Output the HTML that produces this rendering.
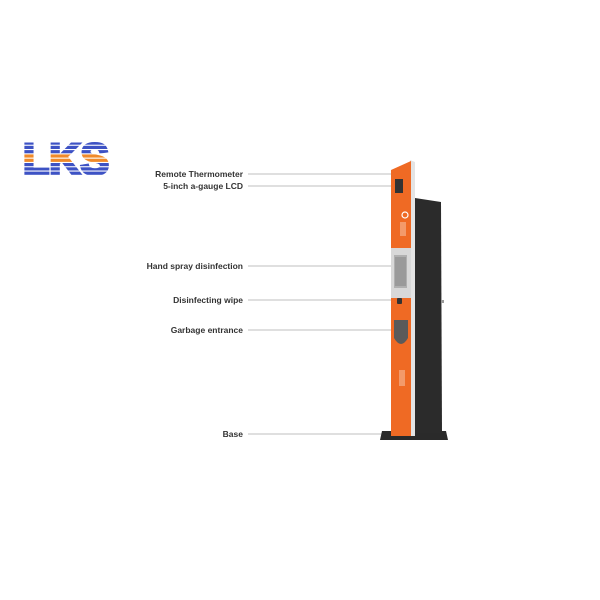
<!DOCTYPE html>
<html><head><meta charset="utf-8"><style>
html,body{margin:0;padding:0;background:#fff;width:600px;height:600px;overflow:hidden}
svg{display:block}
text{font-family:"Liberation Sans",Arial,sans-serif;font-weight:bold;font-size:8.5px;fill:#333}
</style></head><body>
<svg width="600" height="600" viewBox="0 0 600 600" xmlns="http://www.w3.org/2000/svg">
<defs>
<mask id="m" maskUnits="userSpaceOnUse" x="0" y="0" width="200" height="200">
<rect x="0" y="0" width="200" height="200" fill="#000"/>
<text x="23" y="174" textLength="86" lengthAdjust="spacingAndGlyphs" style="font-size:44px;font-weight:bold;fill:#fff;stroke:#fff;stroke-width:3">LKS</text>
</mask>
</defs>
<g mask="url(#m)">
<rect x="20" y="141.5" width="95" height="3.2" fill="#3d52c4"/>
<rect x="20" y="145.8" width="95" height="3.2" fill="#3d52c4"/>
<rect x="20" y="150.1" width="95" height="3.2" fill="#3d52c4"/>
<rect x="20" y="154.4" width="95" height="3.2" fill="#f08a2a"/>
<rect x="20" y="158.7" width="95" height="3.2" fill="#f08a2a"/>
<rect x="20" y="163.0" width="95" height="3.2" fill="#3d52c4"/>
<rect x="20" y="167.3" width="95" height="3.2" fill="#3d52c4"/>
<rect x="20" y="171.6" width="95" height="3.2" fill="#3d52c4"/>
</g>

<g stroke="#aaa" stroke-width="0.8">
<line x1="248" y1="174" x2="393" y2="174"/>
<line x1="248" y1="186" x2="393" y2="186"/>
<line x1="248" y1="266" x2="395" y2="266"/>
<line x1="248" y1="300" x2="395" y2="300"/>
<line x1="248" y1="330" x2="395" y2="330"/>
<line x1="248" y1="434" x2="385" y2="434"/>
</g>
<g text-anchor="end">
<text x="243" y="177">Remote Thermometer</text>
<text x="243" y="189">5-inch a-gauge LCD</text>
<text x="243" y="269">Hand spray disinfection</text>
<text x="243" y="303">Disinfecting wipe</text>
<text x="243" y="333">Garbage entrance</text>
<text x="243" y="437">Base</text>
</g>

<polygon points="382,431 446,431 448,440 380,440" fill="#2a2a2a"/>
<polygon points="415,198 441,202 442,433 415,433" fill="#2b2b2b"/>
<rect x="441" y="300" width="3" height="3" fill="#999"/>
<polygon points="410,160 415,162 415,436 410,436" fill="#e4e4e4"/>
<polygon points="391,170 411,161 411,436 391,436" fill="#ef6a24"/>
<rect x="391" y="248" width="20" height="50" fill="#d8d8d8"/>
<rect x="394" y="255" width="13" height="33" fill="#b0b0b0"/>
<rect x="395" y="257" width="11" height="29" fill="#9a9a9a"/>
<rect x="395" y="179" width="8" height="14" fill="#333"/>
<rect x="397" y="298" width="5" height="6" rx="1" fill="#333"/>
<path d="M394 320 H408 V338 Q401 350 394 338 Z" fill="#5a5a5a"/>
<circle cx="405" cy="215" r="3" fill="none" stroke="#fff" stroke-width="1.2"/>
<rect x="400" y="222" width="6" height="14" fill="#f39a6a"/>
<rect x="399" y="370" width="6" height="16" fill="#f39a6a"/>
</svg>
</body></html>
